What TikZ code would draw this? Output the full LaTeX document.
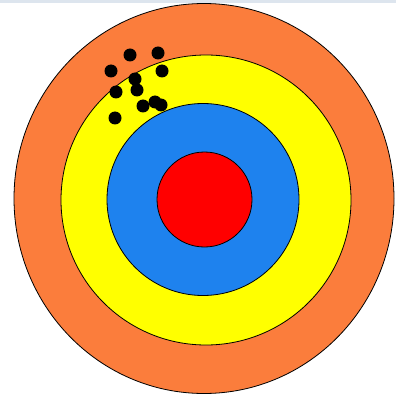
\documentclass[tikz,border=0pt]{standalone}
\usepackage{tikz}
\usepackage{xcolor}
\definecolor{ringorange}{HTML}{FB7D3C}
\definecolor{ringyellow}{HTML}{FFFF00}
\definecolor{ringblue}{HTML}{1E82EE}
\definecolor{ringred}{HTML}{FF0000}
\definecolor{topband}{HTML}{DDE5EE}
\tikzset{
  ring/.style={draw=black,line width=0.8pt},
  hit/.style={fill=black}
}

\begin{document}
\begin{tikzpicture}[x=1pt,y=-1pt]
    \useasboundingbox (0,0) rectangle (396,398);
    \fill[topband] (0,0) rectangle (396,3);
    % target rings, outside in
    \filldraw[ring,fill=ringorange] (204,198.5) ellipse [x radius=190,y radius=195];
    \filldraw[ring,fill=ringyellow] (206,200) circle [radius=145];
    \filldraw[ring,fill=ringblue] (203,199.5) circle [radius=96];
    \filldraw[ring,fill=ringred] (204.5,199.5) circle [radius=47.5];
    % shots
    \foreach \x/\y in {130/55,158/53,111/71,162/71,135/79,116/92,137/90,143/106,155/102,161/105,115/118}
      \fill[hit] (\x,\y) circle [radius=6.5];
  \end{tikzpicture}
\end{document}
